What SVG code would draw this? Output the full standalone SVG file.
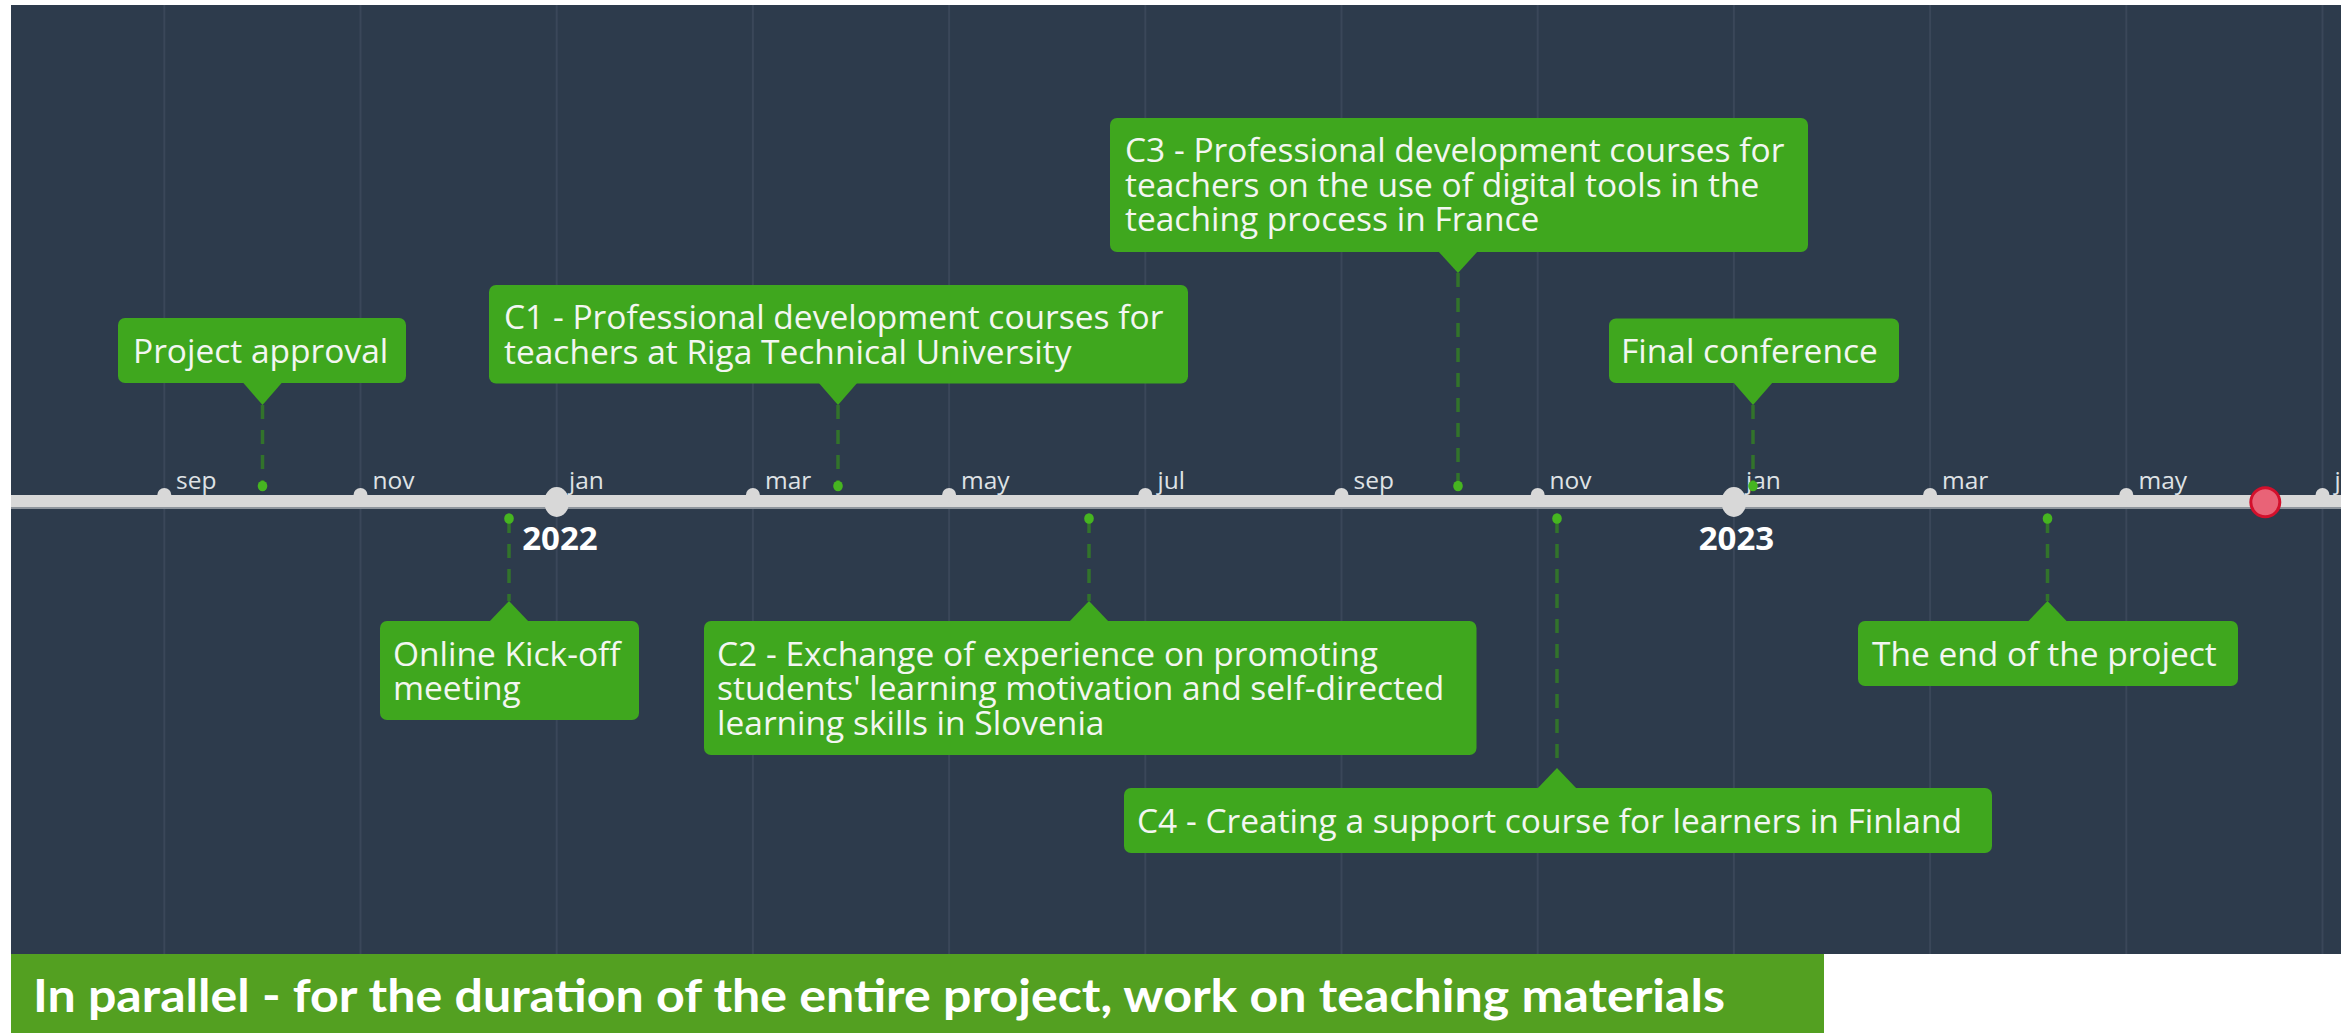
<svg xmlns="http://www.w3.org/2000/svg" width="2348" height="1033" viewBox="0 0 2348 1033">
<style>
.bg{fill:#2d3b4c}
.grid{stroke:#3a4759;stroke-width:2}
.axis{fill:#d8d8d8}
.axisedge{stroke:#8d949c;stroke-width:2}
.tick{fill:#d8d8d8}
.month{font-family:"Open Sans",sans-serif;font-size:24.5px;fill:#dfe2e5}
.year{font-family:"Open Sans",sans-serif;font-weight:700;font-size:33px;fill:#ffffff;text-anchor:middle}
.box{fill:#3fa71e}
.lbl{font-family:"Open Sans",sans-serif;font-size:33.5px;fill:#f3f6f1}
.dash{stroke:#32732b;stroke-width:3.5;stroke-dasharray:14 11;fill:none}
.dot{fill:#46b520}
.banner{fill:#53a021}
.btext{font-family:Lato,"Liberation Sans",sans-serif;font-weight:700;font-size:45px;fill:#ffffff}
</style>
<defs>
<clipPath id="area"><rect x="11" y="5" width="2330" height="949"/></clipPath>
</defs>
<rect x="0" y="0" width="2348" height="1033" fill="#ffffff"/>
<rect class="bg" x="11" y="5" width="2330" height="949"/>
<g id="timeline-axis" clip-path="url(#area)">
<g id="grid">
<line class="grid" x1="164.3" y1="5" x2="164.3" y2="954"/>
<line class="grid" x1="360.5" y1="5" x2="360.5" y2="954"/>
<line class="grid" x1="556.7" y1="5" x2="556.7" y2="954"/>
<line class="grid" x1="752.9" y1="5" x2="752.9" y2="954"/>
<line class="grid" x1="949.1" y1="5" x2="949.1" y2="954"/>
<line class="grid" x1="1145.3" y1="5" x2="1145.3" y2="954"/>
<line class="grid" x1="1341.5" y1="5" x2="1341.5" y2="954"/>
<line class="grid" x1="1537.7" y1="5" x2="1537.7" y2="954"/>
<line class="grid" x1="1733.9" y1="5" x2="1733.9" y2="954"/>
<line class="grid" x1="1930.1" y1="5" x2="1930.1" y2="954"/>
<line class="grid" x1="2126.3" y1="5" x2="2126.3" y2="954"/>
<line class="grid" x1="2322.5" y1="5" x2="2322.5" y2="954"/>
</g>
<rect class="axis" x="11" y="495" width="2330" height="12.5"/>
<line class="axisedge" x1="11" y1="508" x2="2341" y2="508"/>
<g id="ticks">
<circle class="tick" cx="164.3" cy="495" r="7"/>
<circle class="tick" cx="360.5" cy="495" r="7"/>
<ellipse class="tick" cx="556.7" cy="502" rx="12.5" ry="15"/>
<circle class="tick" cx="752.9" cy="495" r="7"/>
<circle class="tick" cx="949.1" cy="495" r="7"/>
<circle class="tick" cx="1145.3" cy="495" r="7"/>
<circle class="tick" cx="1341.5" cy="495" r="7"/>
<circle class="tick" cx="1537.7" cy="495" r="7"/>
<ellipse class="tick" cx="1733.9" cy="502" rx="12.5" ry="15"/>
<circle class="tick" cx="1930.1" cy="495" r="7"/>
<circle class="tick" cx="2126.3" cy="495" r="7"/>
<circle class="tick" cx="2322.5" cy="495" r="7"/>
</g>
<g id="months">
<text class="month" x="176" y="489">sep</text>
<text class="month" x="372.5" y="489">nov</text>
<text class="month" x="569" y="489">jan</text>
<text class="month" x="765" y="489">mar</text>
<text class="month" x="961" y="489">may</text>
<text class="month" x="1157.5" y="489">jul</text>
<text class="month" x="1353.5" y="489">sep</text>
<text class="month" x="1549.5" y="489">nov</text>
<text class="month" x="1746" y="489">jan</text>
<text class="month" x="1942" y="489">mar</text>
<text class="month" x="2138.5" y="489">may</text>
<text class="month" x="2334.5" y="489">jul</text>
</g>
<g id="years">
<text class="year" x="560" y="550">2022</text>
<text class="year" x="1736.5" y="550">2023</text>
</g>
<circle id="now-marker" cx="2265.3" cy="502.3" r="14.5" fill="#e96377" stroke="#d3102c" stroke-width="3"/>
</g>
<g id="connectors">
<line class="dash" x1="262.5" y1="405" x2="262.5" y2="486"/>
<line class="dash" x1="838" y1="405" x2="838" y2="486"/>
<line class="dash" x1="1458" y1="273" x2="1458" y2="486"/>
<line class="dash" x1="1753" y1="405" x2="1753" y2="486"/>
<line class="dash" x1="509" y1="519" x2="509" y2="601"/>
<line class="dash" x1="1089" y1="519" x2="1089" y2="601"/>
<line class="dash" x1="1557" y1="519" x2="1557" y2="768"/>
<line class="dash" x1="2047.5" y1="519" x2="2047.5" y2="601"/>
<ellipse class="dot" cx="262.5" cy="486" rx="4.8" ry="5.3"/>
<ellipse class="dot" cx="838" cy="486" rx="4.8" ry="5.3"/>
<ellipse class="dot" cx="1458" cy="486" rx="4.8" ry="5.3"/>
<ellipse class="dot" cx="1753" cy="486" rx="4.8" ry="5.3"/>
<ellipse class="dot" cx="509" cy="518.5" rx="4.8" ry="5.3"/>
<ellipse class="dot" cx="1089" cy="518.5" rx="4.8" ry="5.3"/>
<ellipse class="dot" cx="1557" cy="518.5" rx="4.8" ry="5.3"/>
<ellipse class="dot" cx="2047.5" cy="518.5" rx="4.8" ry="5.3"/>
</g>
<g id="event-project-approval">
<rect class="box" x="118" y="318" width="288" height="65" rx="7"/>
<polygon class="box" points="242.5,382 282.5,382 262.5,405"/>
<text class="lbl" x="133" y="363">Project approval</text>
</g>
<g id="event-c1">
<rect class="box" x="489" y="285" width="699" height="98.5" rx="7"/>
<polygon class="box" points="818,382 858,382 838,405"/>
<text class="lbl" x="504" y="329">C1 - Professional development courses for</text>
<text class="lbl" x="504" y="363.5">teachers at Riga Technical University</text>
</g>
<g id="event-c3">
<rect class="box" x="1110" y="118" width="698" height="134" rx="7"/>
<polygon class="box" points="1438,251 1478,251 1458,273"/>
<text class="lbl" x="1125" y="162">C3 - Professional development courses for</text>
<text class="lbl" x="1125" y="196.5">teachers on the use of digital tools in the</text>
<text class="lbl" x="1125" y="231">teaching process in France</text>
</g>
<g id="event-final-conference">
<rect class="box" x="1609" y="318.5" width="290" height="64.5" rx="7"/>
<polygon class="box" points="1733,382 1773,382 1753,405"/>
<text class="lbl" x="1621" y="362.5">Final conference</text>
</g>
<g id="event-kickoff">
<rect class="box" x="380" y="621" width="259" height="99" rx="7"/>
<polygon class="box" points="489,622 529,622 509,601"/>
<text class="lbl" x="393" y="665.5">Online Kick-off</text>
<text class="lbl" x="393" y="700">meeting</text>
</g>
<g id="event-c2">
<rect class="box" x="704" y="621" width="772.5" height="134" rx="7"/>
<polygon class="box" points="1069,622 1109,622 1089,601"/>
<text class="lbl" x="717" y="665.5">C2 - Exchange of experience on promoting</text>
<text class="lbl" x="717" y="700">students' learning motivation and self-directed</text>
<text class="lbl" x="717" y="734.5">learning skills in Slovenia</text>
</g>
<g id="event-c4">
<rect class="box" x="1124" y="788" width="868" height="65" rx="7"/>
<polygon class="box" points="1537,789 1577,789 1557,768"/>
<text class="lbl" x="1137" y="832.5">C4 - Creating a support course for learners in Finland</text>
</g>
<g id="event-end">
<rect class="box" x="1858" y="621" width="380" height="65" rx="7"/>
<polygon class="box" points="2027.5,622 2067.5,622 2047.5,601"/>
<text class="lbl" x="1872" y="665.5">The end of the project</text>
</g>
<g id="banner">
<rect class="banner" x="11" y="954" width="1813" height="79"/>
<text class="btext" x="33" y="1012" textLength="1692" lengthAdjust="spacingAndGlyphs">In parallel - for the duration of the entire project, work on teaching materials</text>
</g>
</svg>
